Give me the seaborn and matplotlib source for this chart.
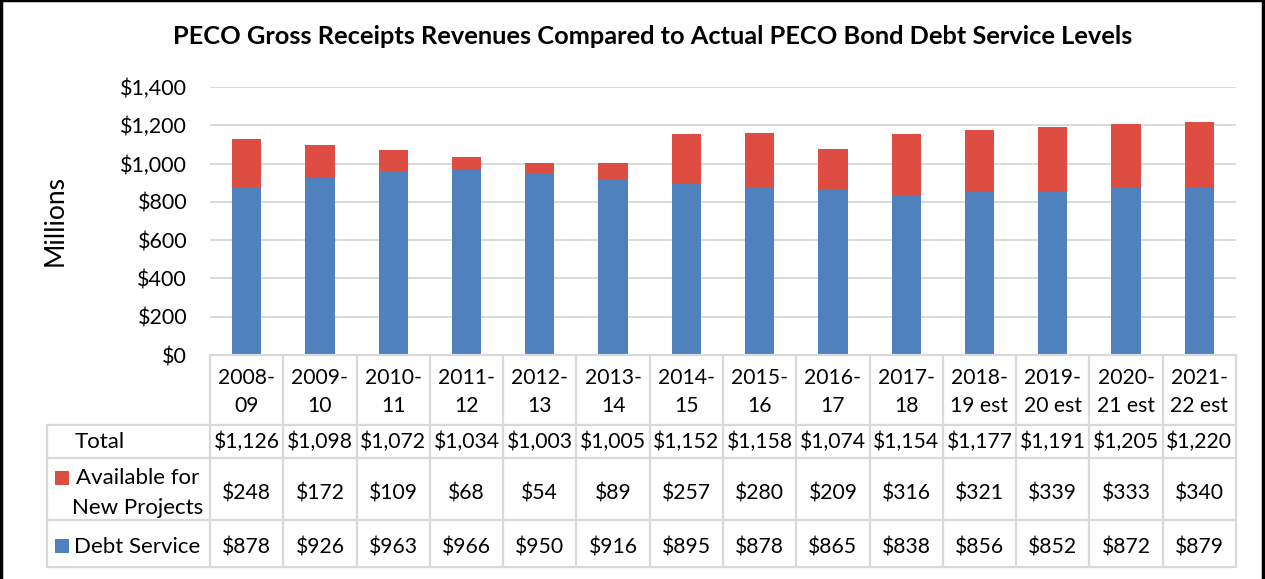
import matplotlib
matplotlib.use("Agg")
import matplotlib.pyplot as plt
import matplotlib.transforms as mtransforms
from matplotlib.lines import Line2D
from matplotlib.patches import Rectangle
import seaborn as sns
import pandas as pd

# Fiscal years, debt service and funds available for new projects ($ millions)
years = ["2008-\n09", "2009-\n10", "2010-\n11", "2011-\n12", "2012-\n13", "2013-\n14",
         "2014-\n15", "2015-\n16", "2016-\n17", "2017-\n18", "2018-\n19 est",
         "2019-\n20 est", "2020-\n21 est", "2021-\n22 est"]
debt_service = [878, 926, 963, 966, 950, 916, 895, 878, 865, 838, 856, 852, 872, 879]
available = [248, 172, 109, 68, 54, 89, 257, 280, 209, 316, 321, 339, 333, 340]
totals = [1126, 1098, 1072, 1034, 1003, 1005, 1152, 1158, 1074, 1154, 1177, 1191, 1205, 1220]

BLUE = "#4F81BD"
RED = "#DE4D42"
GRID = "#D9D9D9"

sns.set_theme(style="white")
plt.rcParams["font.family"] = ["Lato", "DejaVu Sans"]
plt.rcParams["text.color"] = "black"

W, H = 1265, 579
fig = plt.figure(figsize=(W / 100, H / 100), dpi=100)

# plot area in pixel coordinates
pl, pr, pt, pb = 210, 1236, 87, 355
ax = fig.add_axes([pl / W, 1 - pb / H, (pr - pl) / W, (pb - pt) / H])

df = pd.DataFrame({"year": years, "debt": debt_service, "avail": available})
sns.barplot(data=df, x="year", y="debt", color=BLUE, width=0.4, ax=ax,
            saturation=1, edgecolor="none")
sns.barplot(data=df, x="year", y="avail", bottom=df["debt"], color=RED, width=0.4,
            ax=ax, saturation=1, edgecolor="none")

ax.set_ylim(0, 1400)
ax.set_xlim(-0.5, len(years) - 0.5)
ax.set_yticks(range(0, 1401, 200))
ax.set_yticklabels([f"${v:,}" for v in range(0, 1401, 200)], fontsize=15.5, color="black")
ax.tick_params(axis="y", length=0, pad=16.5)
ax.set_xticks([])
ax.set_xlabel("")
ax.set_ylabel("Millions", fontsize=19, color="black")
ax.yaxis.set_label_coords(-0.139, 0.5)
ax.grid(axis="y", color=GRID, linewidth=1.4)
ax.set_axisbelow(True)
for s in ax.spines.values():
    s.set_visible(False)

fig.text(0.5161, 1 - 36 / H, "PECO Gross Receipts Revenues Compared to Actual PECO Bond Debt Service Levels",
         ha="center", va="center", fontsize=18.3, fontweight="bold")

# data table below the plot area
def ay(py):
    return (pb - py) / (pb - pt)

def ax_x(px):
    return (px - pl) / (pr - pl)

blend = mtransforms.blended_transform_factory(ax.transData, ax.transAxes)
n = len(years)
lc = dict(color=GRID, linewidth=1.6, clip_on=False, transform=ax.transAxes)

label_left = 47
rows = [355, 425, 458, 520, 567]
for py in rows:
    x0 = pl if py == 355 else label_left
    ax.add_line(Line2D([ax_x(x0), 1], [ay(py), ay(py)], **lc))
ax.add_line(Line2D([ax_x(label_left)] * 2, [ay(425), ay(567)], **lc))
for k in range(n + 1):
    ax.add_line(Line2D([k - 0.5, k - 0.5], [ay(355), ay(567)], color=GRID, linewidth=1.6,
                       clip_on=False, transform=blend))

fs = 15.2
for i in range(n):
    ax.text(i, ay(392), years[i], ha="center", va="center", fontsize=fs,
            linespacing=1.55, transform=blend, clip_on=False)
    ax.text(i, ay(442), f"${totals[i]:,}", ha="center", va="center", fontsize=fs,
            transform=blend, clip_on=False)
    ax.text(i, ay(493), f"${available[i]:,}", ha="center", va="center", fontsize=fs,
            transform=blend, clip_on=False)
    ax.text(i, ay(547), f"${debt_service[i]:,}", ha="center", va="center", fontsize=fs,
            transform=blend, clip_on=False)

lfs = 16
ax.text(ax_x(75), ay(442), "Total", ha="left", va="center", fontsize=lfs,
        transform=ax.transAxes, clip_on=False)
ax.text(ax_x(138), ay(493), "Available for\nNew Projects", ha="center", va="center",
        fontsize=lfs, linespacing=1.6, transform=ax.transAxes, clip_on=False)
ax.text(ax_x(74), ay(547), "Debt Service", ha="left", va="center", fontsize=lfs,
        transform=ax.transAxes, clip_on=False)

# legend keys
for py, col in [(478, RED), (546, BLUE)]:
    ax.add_patch(Rectangle((ax_x(55), ay(py + 7)), 14 / (pr - pl), 14 / (pb - pt),
                           facecolor=col, edgecolor="none", transform=ax.transAxes,
                           clip_on=False))

# outer frame on top, left and right
fk = dict(color="black", linewidth=2.5, transform=fig.transFigure)
fig.add_artist(Line2D([0, 1], [1, 1], **fk))
fig.add_artist(Line2D([0.001, 0.001], [0, 1], **fk))
fig.add_artist(Line2D([0.9985, 0.9985], [0, 1], **fk))

fig.savefig("out.png", dpi=100, facecolor="white")
